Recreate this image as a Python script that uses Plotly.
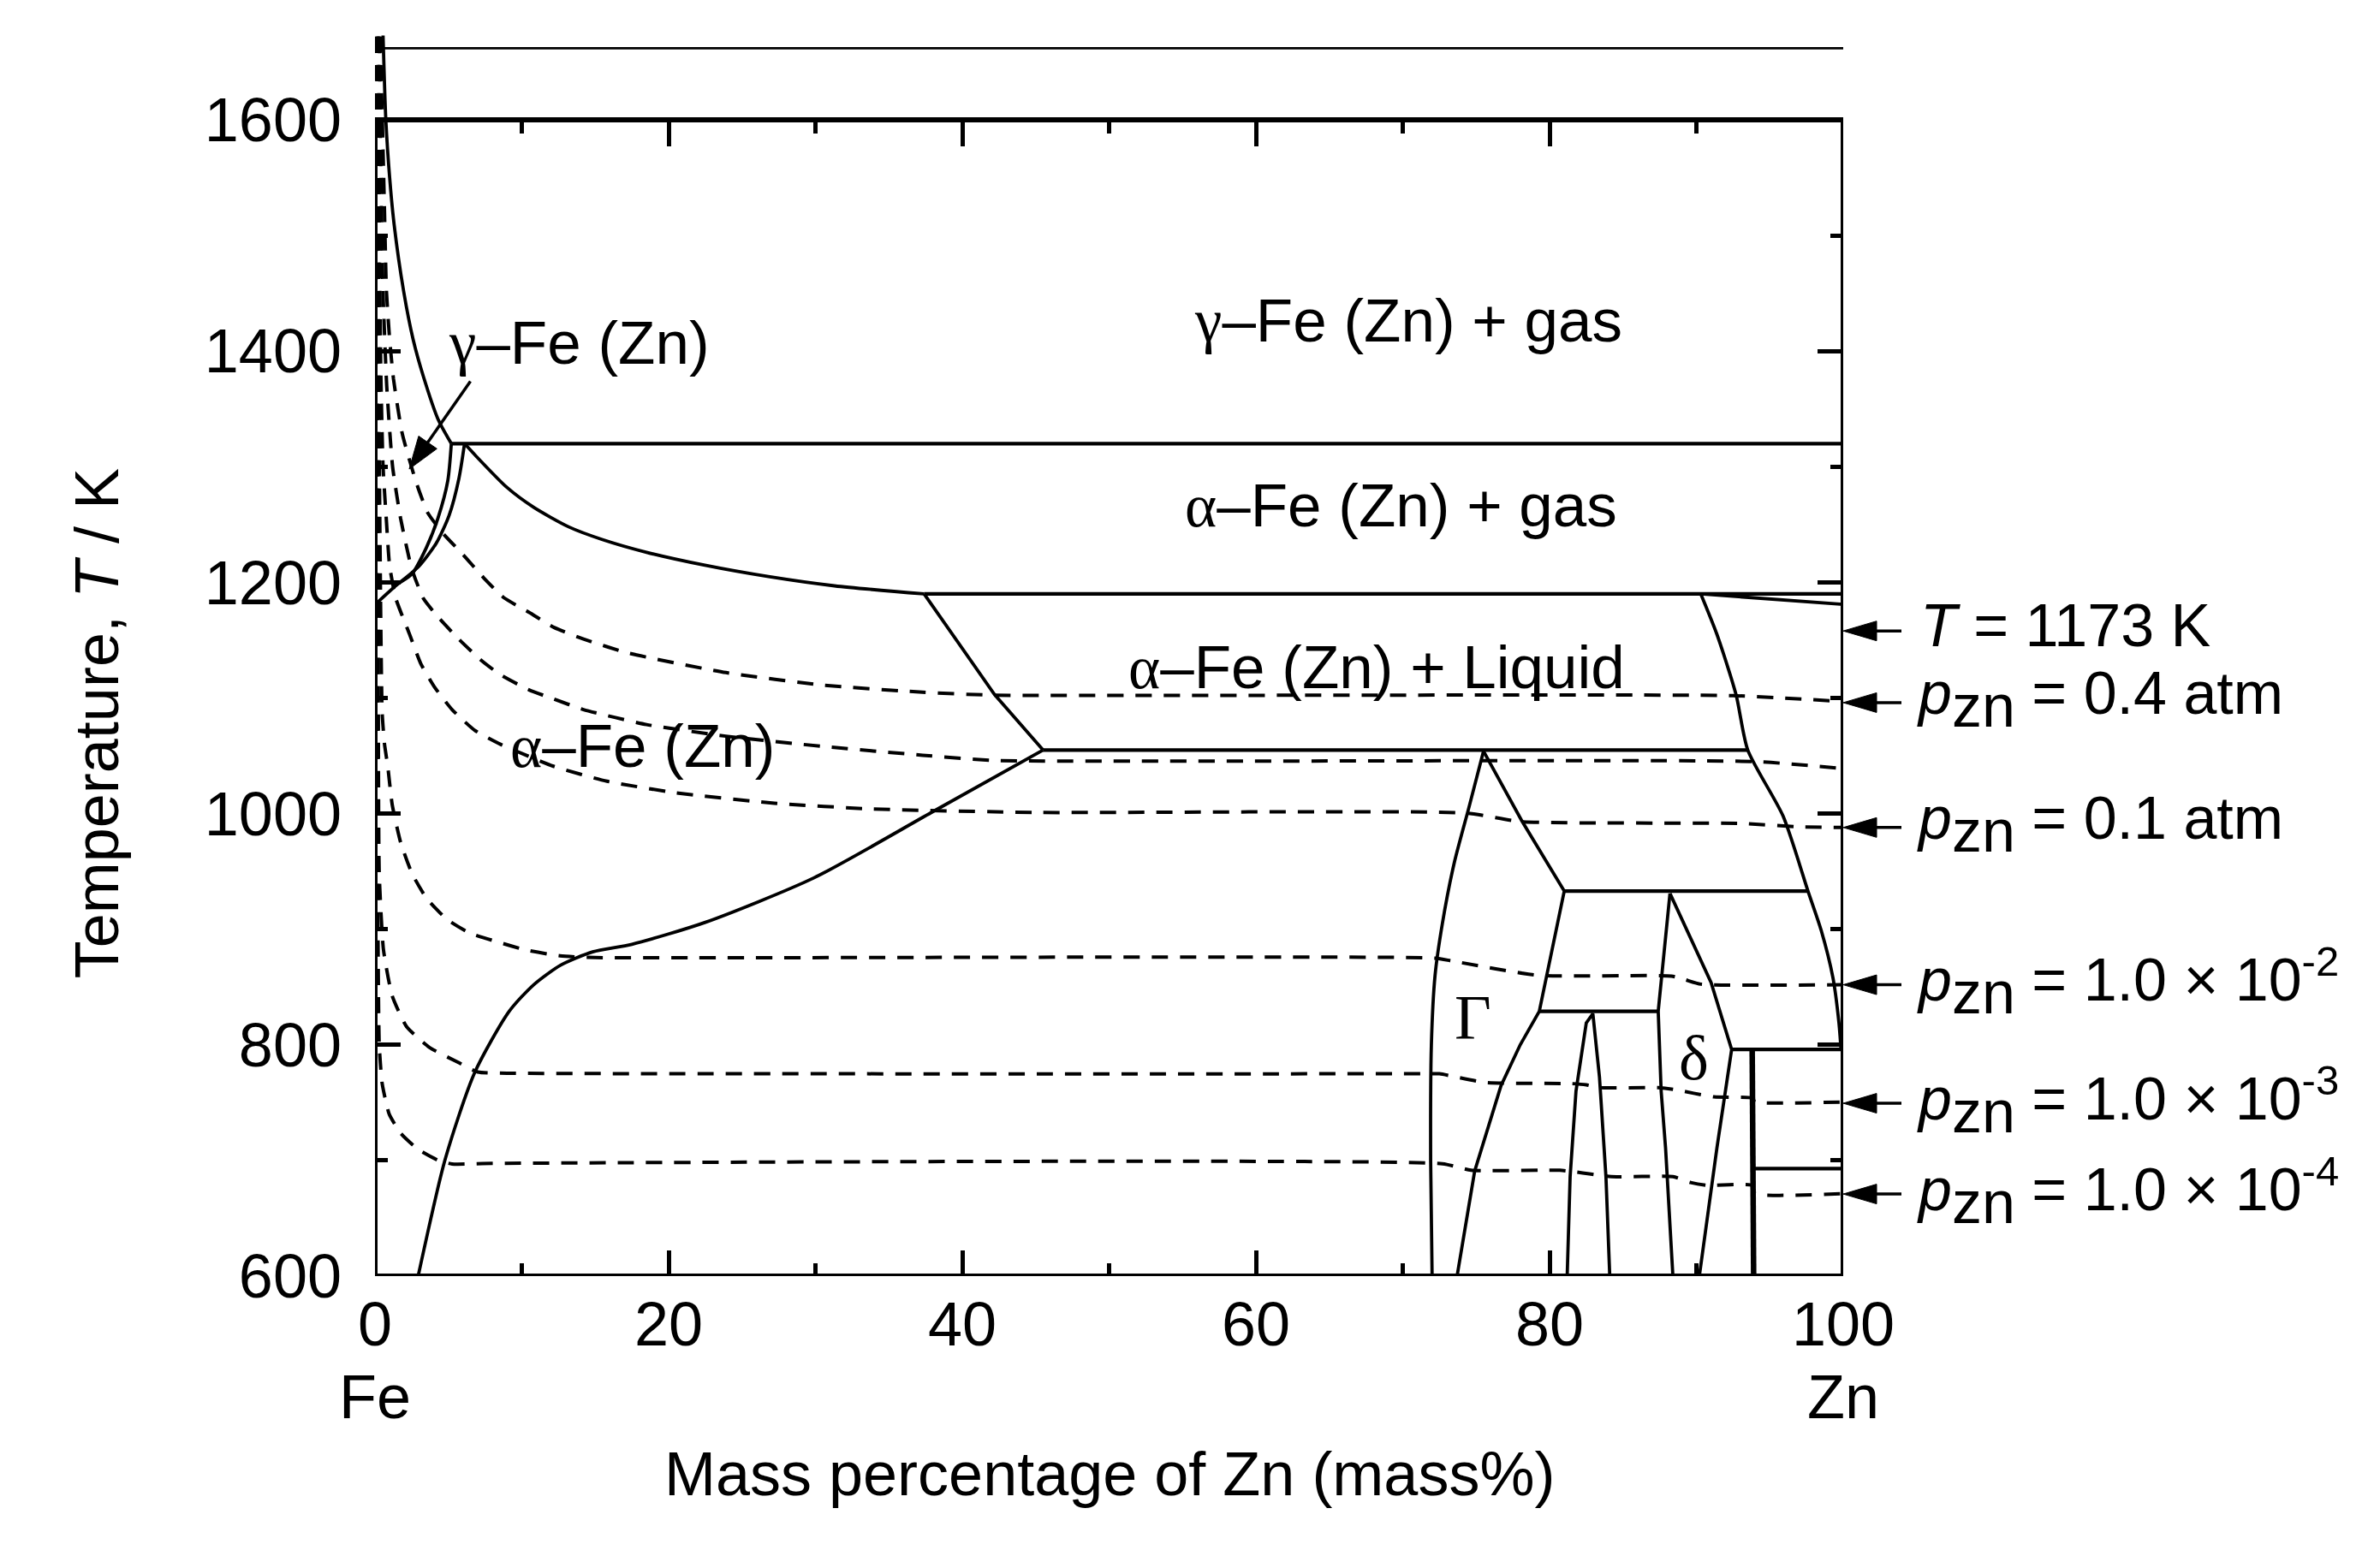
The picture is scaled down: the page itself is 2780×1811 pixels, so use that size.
import math
import plotly.graph_objects as go

# ---------------- data (mass% Zn, T / K) ----------------
top_line_x = [0.6, 100.0]
top_line_t = [1662, 1662]

gamma_gas_x = [0.55, 0.74, 1.0, 1.3, 1.95, 2.6, 3.3, 4.3, 5.2]
gamma_gas_t = [1673, 1600, 1550, 1510, 1452, 1410, 1378, 1341, 1320]

line1320_x = [5.2, 100.0]
line1320_t = [1320, 1320]

gamma_alpha_a_x = [5.2, 4.96, 4.3, 3.5, 2.5, 1.6, 0.2]
gamma_alpha_a_t = [1320, 1288, 1256, 1230, 1207, 1199, 1183]

gamma_alpha_b_x = [6.1, 5.72, 5.05, 4.18, 3.0, 1.6]
gamma_alpha_b_t = [1320, 1290, 1258, 1234, 1214, 1199]

alpha_gas_x = [6.1, 6.9, 9.0, 10.8, 13.2, 15.5, 18.5, 22.4, 26.8, 31.3, 37.4]
alpha_gas_t = [1320, 1309, 1282, 1265, 1248, 1237, 1226, 1215, 1205, 1197, 1190]

line1190_x = [37.4, 100.0]
line1190_t = [1190, 1190]

liq_left_x = [37.4, 42.2, 45.5]
liq_left_t = [1190, 1103, 1055]

line1055_x = [45.5, 93.5]
line1055_t = [1055, 1055]

alpha_solvus_x = [2.94, 4.78, 6.79, 9.14, 10.81, 12.65, 14.83, 17.5, 22.5, 29.9, 37.9, 45.5]
alpha_solvus_t = [600, 701, 776, 829, 852, 869, 880.5, 887, 906, 944.5, 1001, 1055]

liq_right_x = [90.3, 91.4, 92.7, 93.5, 95.9, 97.6, 98.5, 99.3, 99.7, 99.85]
liq_right_t = [1190, 1155, 1103, 1055, 998, 933, 899, 858, 820, 796]

tilt_right_x = [90.3, 100.0]
tilt_right_t = [1190, 1181]

big_gamma_left_x = [75.5, 74.5, 73.5, 72.7, 72.2, 71.95, 71.9, 72.0]
big_gamma_left_t = [1054, 1005, 957, 905, 860, 800, 700, 600]

big_gamma_right_x = [75.5, 78.1, 81.0, 79.8, 79.3, 78.0, 76.7, 74.9, 73.7]
big_gamma_right_t = [1054, 994, 933, 859, 829, 800, 765, 691, 600]

line933_x = [81.0, 97.6]
line933_t = [933, 933]

line829_x = [79.3, 87.4]
line829_t = [829, 829]

peak_x = [81.2, 81.4, 81.8, 82.5, 82.95, 83.4, 83.84, 84.1]
peak_t = [600, 686, 760, 819, 827, 772, 686, 600]

delta_left_x = [88.2, 87.8, 87.4, 87.6, 87.9, 88.4]
delta_left_t = [931, 880, 829, 760, 711, 600]

delta_right_x = [88.2, 89.6, 91.0, 92.4, 91.4, 90.2]
delta_right_t = [931, 893, 854, 796, 711, 600]

line796_x = [92.4, 99.85]
line796_t = [796, 796]

vert94_x = [93.8, 93.9]
vert94_t = [796, 600]

line693_x = [93.9, 100.0]
line693_t = [693, 693]

# dashed isobars
p04_x = [0.35, 0.5, 0.65, 0.78, 1.0, 1.26, 1.85, 2.82, 3.6, 4.66, 6.0, 7.4, 8.75, 10.5, 12.2, 14.2,
         17.2, 23.9, 30.6, 37.3, 42.0, 92.5, 100.0]
p04_t = [1672, 1600, 1520, 1452, 1410, 1376, 1329, 1286, 1260, 1242, 1224, 1204, 1187, 1174, 1161, 1151,
         1139, 1122, 1111, 1105, 1102.5, 1102, 1097]

pmid_x = [0.3, 0.4, 0.55, 0.8, 1.2, 1.75, 2.5, 3.3, 4.3, 5.7, 7.2, 8.55, 10.5, 12.2, 14.2, 18.5,
          23.9, 30.6, 37.3, 42.2, 94.0, 100.0]
pmid_t = [1672, 1550, 1450, 1370, 1300, 1255, 1212, 1186, 1170, 1151, 1133, 1120, 1107, 1099, 1090, 1077,
          1067, 1058, 1050.5, 1046, 1045, 1039]

p01_x = [0.25, 0.3, 0.4, 0.55, 0.78, 1.0, 1.42, 2.33, 3.11, 4.08, 5.25, 6.8, 8.55, 12.15, 15.8, 20.5,
         27.2, 33.9, 45.0, 74.3, 78.1, 93.1, 97.0, 100.0]
p01_t = [1672, 1500, 1380, 1300, 1253, 1214, 1186, 1156, 1130, 1109, 1090, 1072, 1060, 1041, 1028, 1018,
         1009, 1004, 1001, 1000.5, 993, 991.5, 988.5, 988]

p1e2_x = [0.2, 0.25, 0.3, 0.4, 0.49, 0.65, 0.87, 1.17, 1.75, 2.53, 3.5, 4.86, 6.41, 8.36, 10.3, 12.6,
          15.0, 72.2, 73.35, 79.15, 88.3, 89.2, 90.3, 100.0]
p1e2_t = [1672, 1450, 1300, 1160, 1087, 1060, 1041, 1008, 975, 948, 927, 909, 897, 889, 882, 877,
          875.5, 875, 872.6, 860.2, 859.5, 856.5, 852.5, 852]

p1e3_x = [0.15, 0.18, 0.22, 0.29, 0.58, 1.17, 2.14, 3.69, 5.64, 7.0, 9.0, 71.6, 72.5, 75.6, 81.5, 82.5,
          83.4, 87.4, 88.4, 91.2, 93.8, 94.0, 100.0]
p1e3_t = [1672, 1400, 1150, 948, 882, 842.5, 816, 798, 785, 776.5, 775.5, 775, 775, 767.5, 766.5, 765.4,
          763, 763, 761.6, 755, 754, 750.6, 750.6]

p1e4_x = [0.1, 0.12, 0.18, 0.29, 0.49, 0.97, 1.75, 2.9, 4.27, 5.25, 8.0, 72.7, 74.65, 80.7, 81.8, 82.7,
          84.2, 88.4, 89.6, 90.7, 93.8, 94.0, 100.0]
p1e4_t = [1672, 1300, 950, 800, 766.5, 740, 723.6, 710, 700.4, 697, 697.5, 697.2, 691.6, 691.6, 690, 688.5,
          686, 686, 681, 678.5, 678.5, 671.3, 671.3]

# right-hand arrow labels: (arrow temperature, label)
label_t = [1158, 1096, 988, 852, 749.5, 671]
label_text = ["<i>T</i> = 1173 K",
              "0.4 atm", "0.1 atm", "1.0 × 10<sup>-2</sup>", "1.0 × 10<sup>-3</sup>", "1.0 × 10<sup>-4</sup>"]

# axis ticks
x_ticks = [0, 20, 40, 60, 80, 100]
x_minor = [10, 30, 50, 70, 90]
y_ticks = [600, 800, 1000, 1200, 1400, 1600]
y_minor = [700, 900, 1100, 1300, 1500]

# ---------------- geometry / style ----------------
W, H = 2780, 1811
ML, MR, MT, MB = 430, 635, 24, 328
X_RANGE = [0, 100]
Y_RANGE = [600, 1680]
SANS = "Liberation Sans"
SERIF = "Liberation Serif"
FS = 72

fig = go.Figure()


def solid(x, t, w=3.8, shape="linear"):
    fig.add_trace(go.Scatter(x=x, y=t, mode="lines", hoverinfo="skip", showlegend=False,
                             line=dict(color="black", width=w, shape=shape, smoothing=0.7)))


def dashed(x, t):
    fig.add_trace(go.Scatter(x=x, y=t, mode="lines", hoverinfo="skip", showlegend=False,
                             line=dict(color="black", width=4, dash="19px,14px",
                                       shape="spline", smoothing=0.5)))


for xs, ts in [(p04_x, p04_t), (pmid_x, pmid_t), (p01_x, p01_t),
               (p1e2_x, p1e2_t), (p1e3_x, p1e3_t), (p1e4_x, p1e4_t)]:
    dashed(xs, ts)

solid(top_line_x, top_line_t, w=2.8)
solid(gamma_gas_x, gamma_gas_t, shape="spline")
solid(line1320_x, line1320_t, w=4.2)
solid(gamma_alpha_a_x, gamma_alpha_a_t, shape="spline")
solid(gamma_alpha_b_x, gamma_alpha_b_t, shape="spline")
solid(alpha_gas_x, alpha_gas_t, shape="spline")
solid(line1190_x, line1190_t, w=4.2)
solid(liq_left_x, liq_left_t)
solid(line1055_x, line1055_t, w=4.2)
solid(alpha_solvus_x, alpha_solvus_t, shape="spline")
solid(liq_right_x, liq_right_t, shape="spline")
solid(tilt_right_x, tilt_right_t)
solid(big_gamma_left_x, big_gamma_left_t, shape="spline")
solid(big_gamma_right_x, big_gamma_right_t)
solid(line933_x, line933_t, w=4.2)
solid(line829_x, line829_t, w=4.2)
solid(peak_x, peak_t)
solid(delta_left_x, delta_left_t)
solid(delta_right_x, delta_right_t)
solid(line796_x, line796_t, w=4.2)
solid(vert94_x, vert94_t, w=6.5)
solid(line693_x, line693_t, w=4.2)

# invisible anchor trace for the mirrored axes
fig.add_trace(go.Scatter(x=[50], y=[1000], xaxis="x2", yaxis="y2", mode="markers",
                         marker=dict(opacity=0), hoverinfo="skip", showlegend=False))

tick_common = dict(ticks="inside", ticklen=30, tickwidth=5, tickcolor="black",
                   showgrid=False, zeroline=False, showline=False)
minor_common = dict(ticks="inside", ticklen=15, tickwidth=5, tickcolor="black")

pos_1600 = (1600 - Y_RANGE[0]) / (Y_RANGE[1] - Y_RANGE[0])

fig.update_layout(
    width=W, height=H, margin=dict(l=ML, r=MR, t=MT, b=MB, autoexpand=False),
    paper_bgcolor="white", plot_bgcolor="white",
    font=dict(family=SANS, size=FS, color="black"),
    xaxis=dict(range=X_RANGE, tickvals=x_ticks, ticktext=[str(v) for v in x_ticks],
               tickfont=dict(size=FS), ticklabelstandoff=8,
               minor=dict(tickvals=x_minor, **minor_common), **tick_common),
    yaxis=dict(range=Y_RANGE, tickvals=y_ticks, ticktext=[str(v) for v in y_ticks],
               tickfont=dict(size=FS), ticklabelstandoff=38,
               minor=dict(tickvals=y_minor, **minor_common), **tick_common),
    xaxis2=dict(range=X_RANGE, overlaying="x", anchor="free", position=pos_1600, side="top",
                tickvals=x_ticks, showticklabels=False,
                minor=dict(tickvals=x_minor, **minor_common), **tick_common),
    yaxis2=dict(range=Y_RANGE, overlaying="y", anchor="x2", side="right",
                tickvals=y_ticks, showticklabels=False,
                minor=dict(tickvals=y_minor, **minor_common), **tick_common),
)

# frame of the diagram (600-1600 K)
fig.add_shape(type="rect", xref="x", yref="y", x0=X_RANGE[0], x1=X_RANGE[1], y0=600, y1=1600,
              line=dict(color="black", width=6), layer="above")

# right-hand arrows + labels (x in paper units: 1 == right edge of the plot == 100 mass%)
PLOT_W = W - ML - MR
PLOT_H = H - MT - MB
px_per_x = PLOT_W / (X_RANGE[1] - X_RANGE[0])
px_per_t = PLOT_H / (Y_RANGE[1] - Y_RANGE[0])

HEAD_L, HEAD_W = 39, 23
for i, (t, txt) in enumerate(zip(label_t, label_text)):
    fig.add_shape(type="line", xref="paper", yref="y", xsizemode="pixel", xanchor=1,
                  x0=20, x1=68, y0=t, y1=t, line=dict(color="black", width=3.5))
    fig.add_shape(type="path", xref="paper", yref="y", xsizemode="pixel", ysizemode="pixel",
                  xanchor=1, yanchor=t,
                  path=f"M 0 0 L {HEAD_L} {HEAD_W/2} L {HEAD_L} {-HEAD_W/2} Z",
                  fillcolor="black", line=dict(color="black", width=1))
    if i == 0:
        text = txt
        ys = 6
    else:
        text = "<i>p</i><sub><span style='font-size:70px'>zn</span></sub> = " + txt
        ys = 3
    fig.add_annotation(x=100, y=t, xref="x", yref="y", xanchor="left", yanchor="middle",
                       xshift=84 if i else 88, yshift=ys, showarrow=False, text=text,
                       font=dict(size=70, family=SANS))

# gamma-Fe(Zn) pointer arrow
tail_x, tail_t = 6.5, 1374
tip_x, tip_t = 2.33, 1298
dxp = (tail_x - tip_x) * px_per_x
dyp = (tail_t - tip_t) * px_per_t
L = math.hypot(dxp, dyp)
ux, uy = dxp / L, dyp / L
HL, HW = 38, 26
bx, by = ux * HL, uy * HL
p1 = (bx - uy * HW / 2, by + ux * HW / 2)
p2 = (bx + uy * HW / 2, by - ux * HW / 2)
fig.add_shape(type="line", xref="x", yref="y", x0=tail_x, y0=tail_t,
              x1=tip_x + (bx * 0.8) / px_per_x, y1=tip_t + (by * 0.8) / px_per_t,
              line=dict(color="black", width=3.5))
fig.add_shape(type="path", xref="x", yref="y", xsizemode="pixel", ysizemode="pixel",
              xanchor=tip_x, yanchor=tip_t,
              path=f"M 0 0 L {p1[0]:.2f} {p1[1]:.2f} L {p2[0]:.2f} {p2[1]:.2f} Z",
              fillcolor="black", line=dict(color="black", width=1))


def serif(ch):
    return f"<span style='font-family:{SERIF}'>{ch}</span>"


region_labels = [
    (13.9, 1400, serif("γ") + "–Fe (Zn)", 71),
    (70.4, 1419, serif("γ") + "–Fe (Zn) + gas", 71),
    (69.9, 1259, serif("α") + "–Fe (Zn) + gas", 71),
    (68.2, 1119, serif("α") + "–Fe (Zn) + Liquid", 71),
    (18.2, 1051, serif("α") + "–Fe (Zn)", 71),
    (74.8, 816, serif("Γ"), 74),
    (89.8, 781, serif("δ"), 74),
]
for x, t, txt, fs in region_labels:
    fig.add_annotation(x=x, y=t, xref="x", yref="y", yshift=10, showarrow=False, text=txt,
                       font=dict(size=fs, family=SANS))

# Fe / Zn end labels
for x, txt in [(0, "Fe"), (100, "Zn")]:
    fig.add_annotation(x=x, y=600, xref="x", yref="y", yanchor="middle", yshift=-141,
                       showarrow=False, text=txt, font=dict(size=FS, family=SANS))

# axis titles
fig.add_annotation(x=50, y=600, xref="x", yref="y", yanchor="middle", yshift=-231,
                   showarrow=False, text="Mass percentage of Zn (mass%)",
                   font=dict(size=FS, family=SANS))
fig.add_annotation(x=0, y=1078, xref="x", yref="y", xanchor="center", yanchor="middle",
                   xshift=-325, textangle=-90, showarrow=False,
                   text="Temperature, <i>T</i> / K", font=dict(size=FS, family=SANS))

fig.write_html("out.html")
